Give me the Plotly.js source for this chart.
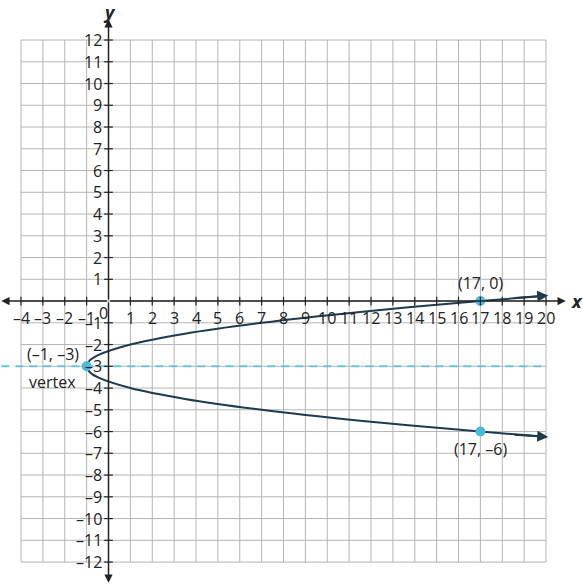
<!DOCTYPE html>
<html>
<head>
<meta charset="utf-8">
<script src="https://cdn.plot.ly/plotly-3.0.1.min.js"></script>
<style>
  html, body { margin: 0; padding: 0; background: #fff; }
  #graph { width: 583px; height: 586px; }
</style>
</head>
<body>
<div id="graph"></div>
<script>
// values
const curveX = [20, 17, 11.5, 7, 3.5, 1, -0.5, -0.875, -1, -0.875, -0.5, 1, 3.5, 7, 11.5, 17, 20];
const curveY = [0.24, 0, -0.5, -1, -1.5, -2, -2.5, -2.75, -3, -3.25, -3.5, -4, -4.5, -5, -5.5, -6, -6.24];

const pointX = [-1, 17, 17];
const pointY = [-3, 0, -6];
const pointLabels = ['(\u20131, \u20133)', '(17, 0)', '(17, \u20136)'];

const axisY = -3;   // dashed axis of symmetry

const xTicks = [-4, -3, -2, -1, 1, 2, 3, 4, 5, 6, 7, 8, 9, 10, 11, 12, 13, 14, 15, 16, 17, 18, 19, 20];
const yTicks = [-12, -11, -10, -9, -8, -7, -6, -5, -4, -3, -2, -1, 1, 2, 3, 4, 5, 6, 7, 8, 9, 10, 11, 12];

const gridColor = '#b4b4b4';
const inkColor = '#222222';
const curveColor = '#1f3a4c';
const dotColor = '#4db8d9';
const textFont = {family: 'Open Sans, sans-serif', size: 16, color: inkColor};

function fmt(v) {
  return v < 0 ? '\u2013' + Math.abs(v) : String(v);
}

let shapes = [];
let annotations = [];

// grid
xTicks.concat([0]).forEach(function (v) {
  shapes.push({type: 'line', layer: 'below', x0: v, x1: v, y0: -12, y1: 12,
    line: {color: gridColor, width: 1}});
});
yTicks.concat([0]).forEach(function (v) {
  shapes.push({type: 'line', layer: 'below', x0: -4, x1: 20, y0: v, y1: v,
    line: {color: gridColor, width: 1}});
});

// tick marks and labels
xTicks.forEach(function (v) {
  shapes.push({type: 'line', x0: v, x1: v, y0: -0.2, y1: 0.2, line: {color: inkColor, width: 1.2}});
  annotations.push({x: v, y: -0.76, text: fmt(v), showarrow: false,
    xanchor: 'center', yanchor: 'middle', font: textFont});
});
yTicks.forEach(function (v) {
  shapes.push({type: 'line', x0: -0.2, x1: 0.2, y0: v, y1: v, line: {color: inkColor, width: 1.2}});
  annotations.push({x: -0.22, y: v, text: fmt(v), showarrow: false,
    xanchor: 'right', yanchor: 'middle', font: textFont});
});
annotations.push({x: -0.23, y: -0.55, text: '0', showarrow: false,
  xanchor: 'center', yanchor: 'middle', font: textFont});

// axes with arrowheads
function arrow(x, y, ax, ay, color, width) {
  return {x: x, y: y, ax: ax, ay: ay, xref: 'x', yref: 'y', axref: 'x', ayref: 'y',
    text: '', showarrow: true, arrowhead: 2, arrowsize: 1.1, arrowwidth: width,
    arrowcolor: color, standoff: 0, startstandoff: 0};
}
annotations.push(arrow(20.9, 0, 0, 0, inkColor, 1.5));
annotations.push(arrow(-4.9, 0, 0, 0, inkColor, 1.5));
annotations.push(arrow(0, 12.95, 0, 0, inkColor, 1.5));
annotations.push(arrow(0, -12.95, 0, 0, inkColor, 1.5));

annotations.push({x: 21.4, y: 0, text: '<b><i>x</i></b>', showarrow: false,
  xanchor: 'center', yanchor: 'middle', font: {family: 'Open Sans, sans-serif', size: 18, color: inkColor}});
annotations.push({x: 0.05, y: 13.28, text: '<b><i>y</i></b>', showarrow: false,
  xanchor: 'center', yanchor: 'middle', font: {family: 'Open Sans, sans-serif', size: 18, color: inkColor}});

// arrowheads on the curve ends
const n = curveX.length;
annotations.push(arrow(curveX[0] + 0.1, curveY[0] + 0.01, curveX[0] - 1.5, curveY[0] - 0.1, curveColor, 2));
annotations.push(arrow(curveX[n - 1] + 0.1, curveY[n - 1] - 0.01, curveX[n - 1] - 1.5, curveY[n - 1] + 0.1, curveColor, 2));

// point labels
annotations.push({x: -2.55, y: -2.45, text: pointLabels[0], showarrow: false, font: textFont});
annotations.push({x: -2.55, y: -3.7, text: 'vertex', showarrow: false, font: textFont});
annotations.push({x: 17.0, y: 0.85, text: pointLabels[1], showarrow: false, font: textFont});
annotations.push({x: 17.0, y: -6.82, text: pointLabels[2], showarrow: false, font: textFont});

let curveTrace = {
  x: curveX,
  y: curveY,
  mode: 'lines',
  line: {color: curveColor, width: 2, shape: 'spline', smoothing: 1},
  hoverinfo: 'skip'
};

let symTrace = {
  x: [-4.9, 20],
  y: [axisY, axisY],
  mode: 'lines',
  line: {color: '#6cc2e0', width: 2, dash: '8px,6px'},
  hoverinfo: 'skip'
};

let pointTrace = {
  x: pointX,
  y: pointY,
  mode: 'markers',
  marker: {color: dotColor, size: 10},
  hoverinfo: 'skip'
};

let layout = {
  width: 583,
  height: 586,
  margin: {l: 0, r: 0, t: 0, b: 0},
  paper_bgcolor: '#ffffff',
  plot_bgcolor: '#ffffff',
  showlegend: false,
  xaxis: {range: [-4.96, 21.69], visible: false, fixedrange: true},
  yaxis: {range: [-13.10, 13.84], visible: false, fixedrange: true},
  shapes: shapes,
  annotations: annotations
};

let staticConfig = {staticPlot: true, displayModeBar: false};

Plotly.newPlot('graph', [symTrace, curveTrace, pointTrace], layout, staticConfig);
</script>
</body>
</html>
